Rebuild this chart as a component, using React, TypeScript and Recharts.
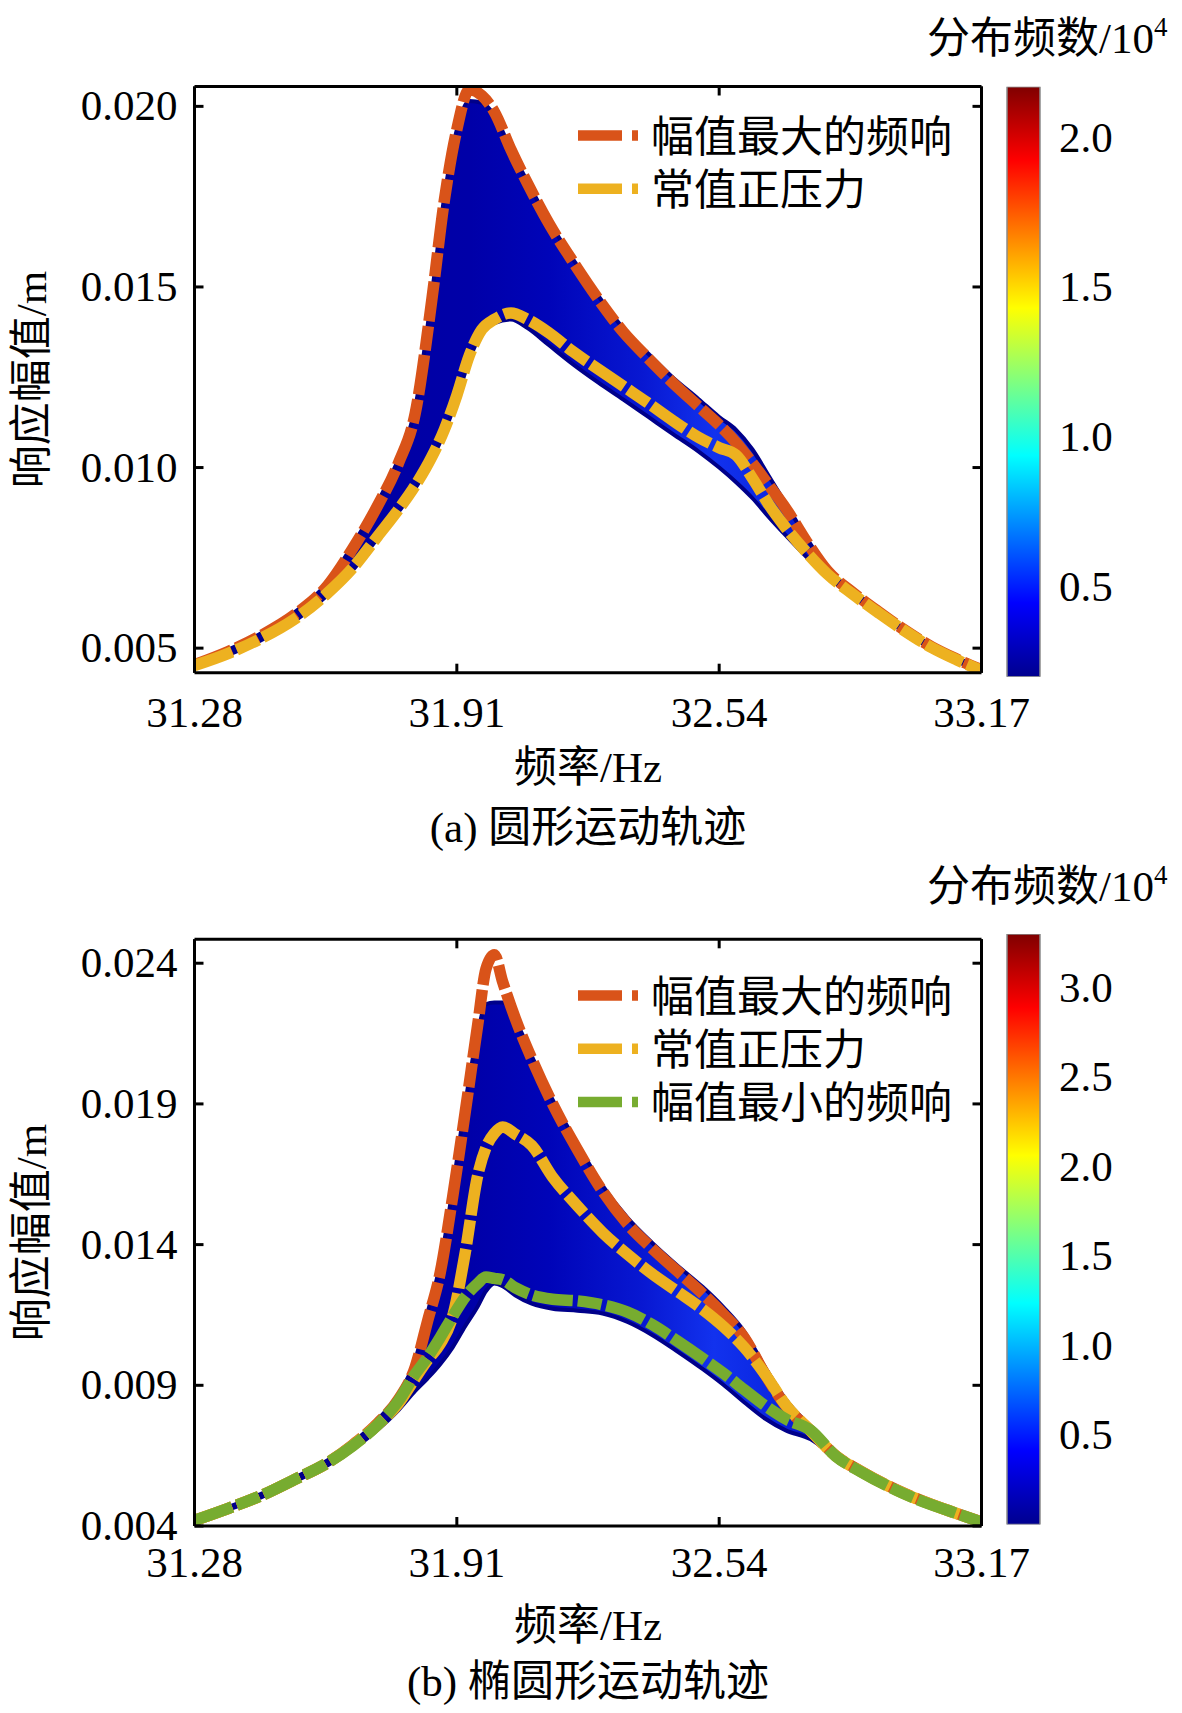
import React from 'react';
import { ComposedChart, Line, Area, XAxis, YAxis, Legend, BarChart, Bar } from 'recharts';

const FONT = "'Liberation Serif', 'Times New Roman', 'Noto Sans CJK SC', serif";
const FS = 43;

// ---------- shared axis ----------
const X_DOMAIN: [number, number] = [31.28, 33.17];
const X_TICKS = [31.28, 31.91, 32.54, 33.17];
const NAME_MAX = '幅值最大的频响';
const NAME_CONST = '常值正压力';
const NAME_MIN = '幅值最小的频响';
const COLOR_MAX = '#D95319';
const COLOR_CONST = '#EDB120';
const COLOR_MIN = '#77AC30';
const LEGEND_ORDER = ['max', 'cst', 'min'];

// ---------- (a) circular trajectory ----------
const freqA = [31.28, 31.36, 31.44, 31.52, 31.60, 31.66, 31.72, 31.77, 31.81, 31.85, 31.88, 31.91, 31.94, 31.97, 32.00, 32.04, 32.08, 32.13, 32.19, 32.25, 32.31, 32.37, 32.43, 32.49, 32.54, 32.58, 32.62, 32.66, 32.70, 32.75, 32.80, 32.86, 32.92, 32.98, 33.05, 33.11, 33.17];
const maxA = [0.00454, 0.00490, 0.00535, 0.00592, 0.00674, 0.00776, 0.00895, 0.01013, 0.01150, 0.01465, 0.01740, 0.01936, 0.02046, 0.02030, 0.01985, 0.01880, 0.01786, 0.01678, 0.01568, 0.01466, 0.01375, 0.01302, 0.01233, 0.01170, 0.01118, 0.01070, 0.01012, 0.00950, 0.00887, 0.00795, 0.00714, 0.00655, 0.00603, 0.00554, 0.00504, 0.00470, 0.00440];
const constA = [0.00452, 0.00485, 0.00527, 0.00580, 0.00653, 0.00722, 0.00810, 0.00884, 0.00950, 0.01030, 0.01105, 0.01200, 0.01310, 0.01382, 0.01410, 0.01428, 0.01410, 0.01374, 0.01320, 0.01272, 0.01225, 0.01178, 0.01129, 0.01084, 0.01055, 0.01035, 0.00970, 0.00896, 0.00833, 0.00765, 0.00705, 0.00650, 0.00600, 0.00552, 0.00502, 0.00468, 0.00438];
const bandLoA = [0.00448, 0.00481, 0.00522, 0.00575, 0.00647, 0.00716, 0.00804, 0.00877, 0.00942, 0.01022, 0.01097, 0.01190, 0.01298, 0.01372, 0.01400, 0.01410, 0.01386, 0.01340, 0.01285, 0.01235, 0.01188, 0.01140, 0.01092, 0.01045, 0.01000, 0.00960, 0.00915, 0.00862, 0.00812, 0.00752, 0.00698, 0.00644, 0.00595, 0.00548, 0.00498, 0.00464, 0.00434];
const bandHiA = [0.00458, 0.00495, 0.00541, 0.00599, 0.00682, 0.00786, 0.00905, 0.01025, 0.01165, 0.01480, 0.01750, 0.01935, 0.02015, 0.02010, 0.01975, 0.01880, 0.01790, 0.01685, 0.01575, 0.01475, 0.01385, 0.01315, 0.01248, 0.01190, 0.01140, 0.01105, 0.01050, 0.00975, 0.00900, 0.00805, 0.00720, 0.00660, 0.00608, 0.00558, 0.00508, 0.00474, 0.00444];
const Y_TICKS_A = [0.005, 0.010, 0.015, 0.020];
const Y_DOMAIN_A: [number, number] = [0.00432, 0.02055];
const CB_TICKS_A = [0.5, 1.0, 1.5, 2.0];
const CB_DOMAIN_A: [number, number] = [0.2, 2.17];

// ---------- (b) elliptical trajectory ----------
const freqB = [31.28, 31.36, 31.44, 31.52, 31.60, 31.66, 31.72, 31.77, 31.81, 31.84, 31.87, 31.90, 31.93, 31.96, 31.98, 32.00, 32.02, 32.05, 32.09, 32.14, 32.20, 32.26, 32.32, 32.38, 32.44, 32.50, 32.55, 32.60, 32.65, 32.70, 32.76, 32.82, 32.88, 32.95, 33.02, 33.09, 33.17];
const maxB = [0.00420, 0.00462, 0.00508, 0.00565, 0.00625, 0.00688, 0.00765, 0.00850, 0.00965, 0.01130, 0.01300, 0.01570, 0.01870, 0.02180, 0.02380, 0.02430, 0.02334, 0.02205, 0.02060, 0.01900, 0.01737, 0.01590, 0.01473, 0.01385, 0.01305, 0.01226, 0.01153, 0.01070, 0.00940, 0.00827, 0.00738, 0.00650, 0.00595, 0.00540, 0.00494, 0.00455, 0.00415];
const constB = [0.00420, 0.00462, 0.00508, 0.00565, 0.00625, 0.00686, 0.00760, 0.00835, 0.00925, 0.00990, 0.01047, 0.01145, 0.01370, 0.01645, 0.01745, 0.01795, 0.01818, 0.01793, 0.01752, 0.01640, 0.01537, 0.01443, 0.01365, 0.01295, 0.01233, 0.01170, 0.01109, 0.01035, 0.00940, 0.00830, 0.00738, 0.00649, 0.00594, 0.00539, 0.00493, 0.00455, 0.00414];
const minB = [0.00420, 0.00462, 0.00508, 0.00565, 0.00625, 0.00685, 0.00760, 0.00845, 0.00940, 0.01000, 0.01070, 0.01145, 0.01214, 0.01262, 0.01285, 0.01280, 0.01275, 0.01247, 0.01221, 0.01206, 0.01200, 0.01186, 0.01160, 0.01115, 0.01057, 0.00996, 0.00943, 0.00885, 0.00828, 0.00780, 0.00740, 0.00648, 0.00593, 0.00538, 0.00492, 0.00455, 0.00414];
const bandLoB = [0.00416, 0.00457, 0.00502, 0.00558, 0.00616, 0.00672, 0.00742, 0.00812, 0.00880, 0.00925, 0.00975, 0.01035, 0.01110, 0.01180, 0.01235, 0.01262, 0.01252, 0.01220, 0.01190, 0.01172, 0.01165, 0.01155, 0.01125, 0.01078, 0.01020, 0.00958, 0.00902, 0.00840, 0.00782, 0.00740, 0.00708, 0.00640, 0.00584, 0.00533, 0.00489, 0.00451, 0.00411];
const bandHiB = [0.00424, 0.00467, 0.00514, 0.00572, 0.00634, 0.00696, 0.00778, 0.00868, 0.00990, 0.01160, 0.01330, 0.01600, 0.01900, 0.02150, 0.02255, 0.02260, 0.02260, 0.02200, 0.02070, 0.01915, 0.01758, 0.01610, 0.01495, 0.01405, 0.01325, 0.01250, 0.01178, 0.01092, 0.00965, 0.00850, 0.00752, 0.00658, 0.00600, 0.00545, 0.00499, 0.00460, 0.00418];
const Y_TICKS_B = [0.004, 0.009, 0.014, 0.019, 0.024];
const Y_DOMAIN_B: [number, number] = [0.004, 0.02485];
const CB_TICKS_B = [0.5, 1.0, 1.5, 2.0, 2.5, 3.0];
const CB_DOMAIN_B: [number, number] = [0, 3.3];

const rowsA = freqA.map((f, i) => ({ f, band: [bandLoA[i], bandHiA[i]], max: maxA[i], cst: constA[i] }));
const rowsB = freqB.map((f, i) => ({ f, band: [bandLoB[i], bandHiB[i]], max: maxB[i], cst: constB[i], min: minB[i] }));

// ---------- layout ----------
const PLOT_LEFT = 194.5;
const PLOT_RIGHT = 981.5;
const CHART_W = 1182;
const AX = 1; // nominal axis thickness
const LINE_DASH = '40 5 24 5';
const LINE_W = 11.5;

const xTickBottom = (dy: number) => (props: any) => {
  const { x, y, payload } = props;
  return (
    <g>
      <line x1={x} x2={x} y1={y} y2={y - 9} stroke="#000" strokeWidth={3} />
      <text x={x} y={y + dy} textAnchor="middle" fontSize={FS} fontFamily={FONT} fill="#000">
        {Number(payload.value).toFixed(2)}
      </text>
    </g>
  );
};
const xTickTop = (props: any) => {
  const { x, y } = props;
  return <line x1={x} x2={x} y1={y} y2={y + 9} stroke="#000" strokeWidth={3} />;
};
const yTickLeft = (props: any) => {
  const { x, y, payload } = props;
  return (
    <g>
      <line x1={x} x2={x + 9} y1={y} y2={y} stroke="#000" strokeWidth={3} />
      <text x={x - 17} y={y + 14} textAnchor="end" fontSize={FS} fontFamily={FONT} fill="#000">
        {Number(payload.value).toFixed(3)}
      </text>
    </g>
  );
};
const yTickRight = (props: any) => {
  const { x, y } = props;
  return <line x1={x} x2={x - 9} y1={y} y2={y} stroke="#000" strokeWidth={3} />;
};
const cbTick = (props: any) => {
  const { x, y, payload } = props;
  return (
    <text x={x + 19} y={y + 14} textAnchor="start" fontSize={FS} fontFamily={FONT} fill="#000">
      {Number(payload.value).toFixed(1)}
    </text>
  );
};

const renderLegend = (props: any) => {
  const items = (props.payload || [])
    .filter((p: any) => p.type !== 'none' && LEGEND_ORDER.includes(String(p.dataKey)))
    .sort((a: any, b: any) => LEGEND_ORDER.indexOf(String(a.dataKey)) - LEGEND_ORDER.indexOf(String(b.dataKey)));
  return (
    <svg width={420} height={180}>
      {items.map((it: any, i: number) => {
        const cy = 35.5 + i * 53.3;
        return (
          <g key={i}>
            <line x1={8} x2={70} y1={cy} y2={cy} stroke={it.color} strokeWidth={10.5} strokeDasharray="44 10 6 40" />
            <text x={81} y={cy + 16} fontSize={FS} fontFamily={FONT} fill="#000">{it.value}</text>
          </g>
        );
      })}
    </svg>
  );
};

function BandGradient({ id }: { id: string }) {
  return (
    <linearGradient id={id} x1="0" y1="0" x2="1" y2="0">
      <stop offset="0" stopColor="#00009a" />
      <stop offset="0.35" stopColor="#0000a8" />
      <stop offset="0.45" stopColor="#0004b8" />
      <stop offset="0.57" stopColor="#0818d2" />
      <stop offset="0.66" stopColor="#1232ee" />
      <stop offset="0.74" stopColor="#0a26e0" />
      <stop offset="0.82" stopColor="#0000b4" />
      <stop offset="1" stopColor="#00009a" />
    </linearGradient>
  );
}

type PanelProps = {
  top: number;
  height: number;
  plotTop: number;
  plotBottom: number;
  rows: any[];
  yDomain: [number, number];
  yTicks: number[];
  withMin: boolean;
  xTickDy: number;
  xTitleY: number;
  yTitleY: number;
  gradId: string;
};

function Panel(p: PanelProps) {
  const yc = p.yTitleY;
  return (
    <div style={{ position: 'absolute', left: 0, top: p.top, width: CHART_W, height: p.height }}>
      <ComposedChart
        width={CHART_W}
        height={p.height}
        data={p.rows}
        margin={{
          top: p.plotTop - AX,
          right: CHART_W - PLOT_RIGHT - AX,
          bottom: p.height - p.plotBottom - AX,
          left: PLOT_LEFT - AX,
        }}
      >
        <defs>
          <BandGradient id={p.gradId} />
        </defs>
        <XAxis
          xAxisId="b"
          type="number"
          dataKey="f"
          domain={X_DOMAIN}
          ticks={X_TICKS}
          interval={0}
          allowDataOverflow
          height={AX}
          tickSize={0}
          tickMargin={0}
          tickLine={false}
          axisLine={{ stroke: '#000', strokeWidth: 3 }}
          tick={xTickBottom(p.xTickDy)}
          label={{
            value: '频率/Hz',
            content: () => (
              <text x={(PLOT_LEFT + PLOT_RIGHT) / 2} y={p.xTitleY} textAnchor="middle" fontSize={FS} fontFamily={FONT} fill="#000">
                频率/Hz
              </text>
            ),
          }}
        />
        <XAxis
          xAxisId="t"
          orientation="top"
          type="number"
          dataKey="f"
          domain={X_DOMAIN}
          ticks={X_TICKS}
          interval={0}
          allowDataOverflow
          height={AX}
          tickSize={0}
          tickMargin={0}
          tickLine={false}
          axisLine={{ stroke: '#000', strokeWidth: 3 }}
          tick={xTickTop}
        />
        <YAxis
          yAxisId="l"
          type="number"
          domain={p.yDomain}
          ticks={p.yTicks}
          interval={0}
          allowDataOverflow
          width={AX}
          tickSize={0}
          tickMargin={0}
          tickLine={false}
          axisLine={{ stroke: '#000', strokeWidth: 3 }}
          tick={yTickLeft}
          label={{
            value: '响应幅值/m',
            content: () => (
              <text x={46} y={yc} transform={`rotate(-90 46 ${yc})`} textAnchor="middle" fontSize={FS} fontFamily={FONT} fill="#000">
                响应幅值/m
              </text>
            ),
          }}
        />
        <YAxis
          yAxisId="r"
          orientation="right"
          type="number"
          domain={p.yDomain}
          ticks={p.yTicks}
          interval={0}
          allowDataOverflow
          width={AX}
          tickSize={0}
          tickMargin={0}
          tickLine={false}
          axisLine={{ stroke: '#000', strokeWidth: 3 }}
          tick={yTickRight}
        />
        <Area
          xAxisId="b"
          yAxisId="l"
          type="monotone"
          dataKey="band"
          fill={`url(#${p.gradId})`}
          fillOpacity={1}
          stroke="#00008a"
          strokeWidth={4}
          legendType="none"
          isAnimationActive={false}
          dot={false}
          activeDot={false}
        />
        <Line
          xAxisId="b"
          yAxisId="l"
          type="monotone"
          dataKey="max"
          name={NAME_MAX}
          stroke={COLOR_MAX}
          strokeWidth={LINE_W}
          strokeDasharray={LINE_DASH}
          strokeLinecap="butt"
          dot={false}
          activeDot={false}
          isAnimationActive={false}
        />
        <Line
          xAxisId="b"
          yAxisId="l"
          type="monotone"
          dataKey="cst"
          name={NAME_CONST}
          stroke={COLOR_CONST}
          strokeWidth={LINE_W}
          strokeDasharray={LINE_DASH}
          strokeLinecap="butt"
          dot={false}
          activeDot={false}
          isAnimationActive={false}
        />
        {p.withMin && (
          <Line
            xAxisId="b"
            yAxisId="l"
            type="monotone"
            dataKey="min"
            name={NAME_MIN}
            stroke={COLOR_MIN}
            strokeWidth={LINE_W}
            strokeDasharray={LINE_DASH}
            strokeLinecap="butt"
            dot={false}
            activeDot={false}
            isAnimationActive={false}
          />
        )}
        <Legend
          layout="vertical"
          align="center"
          verticalAlign="middle"
          wrapperStyle={{ left: 570, top: 100, width: 420, height: 180 }}
          content={renderLegend}
        />
      </ComposedChart>
    </div>
  );
}

type CBProps = { top: number; height: number; plotTop: number; plotBottom: number; domain: [number, number]; ticks: number[]; gradId: string };

function ColorBar(p: CBProps) {
  const W = 192;
  const rows = [{ name: 'cb', range: [p.domain[0], p.domain[1]] }];
  return (
    <div style={{ position: 'absolute', left: 990, top: p.top, width: W, height: p.height }}>
      <BarChart
        width={W}
        height={p.height}
        data={rows}
        margin={{ top: p.plotTop, bottom: p.height - p.plotBottom, left: 17, right: W - 17 - 33 - AX }}
        barCategoryGap={0}
        barGap={0}
      >
        <defs>
          <linearGradient id={p.gradId} x1="0" y1="1" x2="0" y2="0">
            <stop offset="0" stopColor="#00008F" />
            <stop offset="0.125" stopColor="#0000FF" />
            <stop offset="0.375" stopColor="#00FFFF" />
            <stop offset="0.625" stopColor="#FFFF00" />
            <stop offset="0.875" stopColor="#FF0000" />
            <stop offset="1" stopColor="#800000" />
          </linearGradient>
        </defs>
        <XAxis dataKey="name" hide />
        <YAxis
          orientation="right"
          type="number"
          domain={p.domain}
          ticks={p.ticks}
          interval={0}
          allowDataOverflow
          width={AX}
          tickSize={0}
          tickMargin={0}
          tickLine={false}
          axisLine={false}
          tick={cbTick}
        />
        <Bar dataKey="range" fill={`url(#${p.gradId})`} stroke="#8a8a8a" strokeWidth={1.5} isAnimationActive={false} />
      </BarChart>
    </div>
  );
}

function CbTitle({ x, y }: { x: number; y: number }) {
  return (
    <text x={x} y={y} fontSize={FS} fontFamily={FONT} fill="#000">
      分布频数/10
      <tspan fontSize={27} dy={-17}>4</tspan>
    </text>
  );
}

export default function App() {
  return (
    <div style={{ position: 'absolute', left: 0, top: 0, width: 1182, height: 1713, background: '#fff' }}>
      <svg width={1182} height={1713} style={{ position: 'absolute', left: 0, top: 0 }}>
        <CbTitle x={927} y={53} />
        <CbTitle x={927} y={901} />
        <text x={588} y={842} textAnchor="middle" fontSize={FS} fontFamily={FONT} fill="#000">(a) 圆形运动轨迹</text>
        <text x={588} y={1696} textAnchor="middle" fontSize={FS} fontFamily={FONT} fill="#000">(b) 椭圆形运动轨迹</text>
      </svg>
      <Panel
        top={0}
        height={860}
        plotTop={86.5}
        plotBottom={672.7}
        rows={rowsA}
        yDomain={Y_DOMAIN_A}
        yTicks={Y_TICKS_A}
        withMin={false}
        xTickDy={54}
        xTitleY={782}
        yTitleY={379.6}
        gradId="bandGradA"
      />
      <Panel
        top={860}
        height={853}
        plotTop={79.3}
        plotBottom={666}
        rows={rowsB}
        yDomain={Y_DOMAIN_B}
        yTicks={Y_TICKS_B}
        withMin={true}
        xTickDy={50.7}
        xTitleY={780}
        yTitleY={372.5}
        gradId="bandGradB"
      />
      <ColorBar top={0} height={760} plotTop={86.7} plotBottom={676.7} domain={CB_DOMAIN_A} ticks={CB_TICKS_A} gradId="jetA" />
      <ColorBar top={860} height={853} plotTop={74} plotBottom={664.5} domain={CB_DOMAIN_B} ticks={CB_TICKS_B} gradId="jetB" />
    </div>
  );
}
